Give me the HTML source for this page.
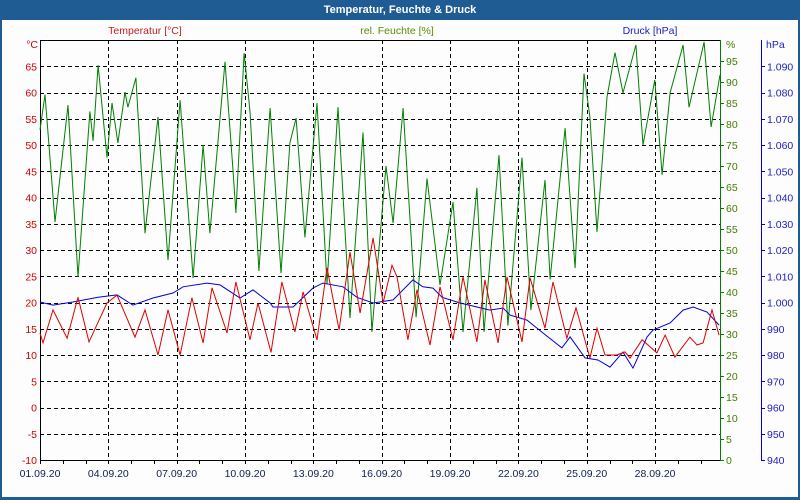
<!DOCTYPE html>
<html><head><meta charset="utf-8">
<style>
html,body{margin:0;padding:0;background:#fff;}
#wrap{position:relative;width:800px;height:500px;overflow:hidden;font-family:"Liberation Sans",sans-serif;}
</style></head>
<body>
<div id="wrap">
<svg id="chart" width="800" height="500" xmlns="http://www.w3.org/2000/svg" font-family="Liberation Sans, sans-serif">
  <rect x="0" y="0" width="800" height="500" fill="#1f5c94"/>
  <rect x="2" y="20" width="796" height="477" fill="#fdfdfd"/>
  <text x="400" y="13" text-anchor="middle" fill="#fff" font-size="11" font-weight="bold">Temperatur, Feuchte &amp; Druck</text>
  <text x="145" y="34" text-anchor="middle" fill="#c02020" font-size="10.5">Temperatur [°C]</text>
  <text x="397" y="34" text-anchor="middle" fill="#5a8a00" font-size="10.5">rel. Feuchte [%]</text>
  <text x="650" y="34" text-anchor="middle" fill="#2020c0" font-size="10.5">Druck [hPa]</text>
  <g id="grid"></g>
  <g id="axes"></g>
  <g id="series"></g>
</svg>
</div>
<script>
// ---- data ----
const humDays = [0,.22,.66,1.23,1.67,2.19,2.33,2.55,2.94,3.16,3.42,3.73,3.86,4.21,4.61,5.18,5.62,6.15,6.72,7.16,7.46,8.12,8.47,8.60,8.96,9.22,9.61,10.10,10.58,10.97,11.24,11.63,12.16,12.60,13.08,13.61,14.18,14.57,15.19,15.50,15.94,16.51,16.99,17.56,18.13,18.57,19.18,19.49,20.15,20.54,21.16,21.55,22.17,22.39,23.05,23.49,23.88,24.14,24.45,24.89,25.24,25.59,26.16,26.47,26.99,27.31,27.66,28.23,28.49,29.15,29.46,29.85];
const humValues = [78.6,87,56.7,84.5,43.6,83,76,94,72,85,75.5,87.6,84,91,54,81.7,47.6,85.7,43.3,75,54,94.8,69,58.8,96.9,83,45,83.8,44.5,75.5,81.4,53,85,42,84,33.8,78,30.5,70,56.4,83.8,34,67,41.7,61.4,30.5,64.8,30.5,72.6,32,72,35.7,66.7,43,79,45.7,92,81.7,54.3,86.4,97,87.4,98.8,75,90.5,67.9,87.4,98.8,84,99.5,79.3,91.7];
const tempDays = [0,.13,.57,1.19,1.67,2.15,2.94,3.38,4.17,4.61,5.18,5.62,6.15,6.67,7.16,7.55,8.21,8.60,9.22,9.57,10.14,10.62,11.19,11.55,12.16,12.60,13.13,13.61,14.05,14.62,15.06,15.45,15.67,16.15,16.55,17.12,17.56,18.13,18.57,19.18,19.53,20.11,20.50,21.16,21.51,22.17,22.52,23.13,23.53,24.14,24.45,24.80,25.33,25.68,25.90,26.43,27.08,27.44,27.87,28.53,28.84,29.11,29.50,29.81];
const tempValues = [14.2,12.3,18.6,13.2,21,12.5,19.9,21.4,13.4,18.6,10,18.6,10,20.9,12.3,22.8,14.2,23.9,12.9,19.9,10.5,23.9,14.4,22,12.9,26.6,14.8,29.6,18,32.3,19.9,27.1,24.9,12.9,22.4,11.9,23,12.9,24.9,12.5,24.3,12.3,24.9,12.5,24.7,15.1,23.9,13.2,19,9.4,15.1,10,10,10.6,9.4,12.9,10.4,13.8,9.6,13.4,11.9,12.3,18.6,13.8];
const presDays = [0,.57,1.45,2.55,3.38,4.08,4.96,5.84,6.28,7.33,7.90,8.78,9.35,10.10,10.23,11.11,11.98,12.42,13.30,13.91,14.62,15.50,16.37,16.81,17.25,17.65,18.44,19.75,20.33,20.63,21.38,22.08,22.91,23.27,23.93,24.49,25.02,25.59,26.03,26.65,26.91,27.66,28.23,28.67,29.28,29.81];
const presValues = [1000.2,999,1000.2,1002,1002.9,999,1001.7,1003.6,1006,1007.4,1006.7,1001.7,1004.8,999.8,998.3,998.3,1005.5,1007.4,1006,1002,999.8,1001,1008.6,1006,1005.5,1002,999.8,997.1,997.9,995.2,993.3,988.4,982.7,986.9,978.9,978.1,975.4,981.1,975,986.9,989.5,992.2,997.1,998.3,996.4,991.4];
const dateLabels = ["01.09.20","04.09.20","07.09.20","10.09.20","13.09.20","16.09.20","19.09.20","22.09.20","25.09.20","28.09.20"];
const tempTicks = [-10,-5,0,5,10,15,20,25,30,35,40,45,50,55,60,65];
const humTicks = [0,5,10,15,20,25,30,35,40,45,50,55,60,65,70,75,80,85,90,95];
const presTicks = [940,950,960,970,980,990,1000,1010,1020,1030,1040,1050,1060,1070,1080,1090];

// ---- layout ----
const L=40,R=720,T=40,B=460;
const NS='http://www.w3.org/2000/svg';
const xDay = d => L + d*(R-L)/29.85;
const yTemp = v => B - (v+10)*(B-T)/80;
const yHum = v => B - v*(B-T)/100;
const yPres = v => B - (v-940)*(B-T)/160;
function mk(tag, attrs, parent){const e=document.createElementNS(NS,tag);for(const k in attrs)e.setAttribute(k,attrs[k]);parent.appendChild(e);return e;}
const grid=document.getElementById('grid'), axes=document.getElementById('axes'), series=document.getElementById('series');

for(let v=-5; v<70; v+=5){
  const y=Math.round(yTemp(v))+0.5;
  const g=mk('line',{x1:L,x2:R,y1:y,y2:y,stroke:'#000','stroke-width':1,'stroke-dasharray':'4,3'},grid);
  
  
}
for(let d=3; d<30; d+=3){
  const x=Math.round(xDay(d))+0.5;
  const g=mk('line',{x1:x,x2:x,y1:T,y2:B,stroke:'#000','stroke-width':1,'stroke-dasharray':'4,3'},grid);
  
  
}
let e;
e=mk('line',{x1:L+0.5,x2:L+0.5,y1:T,y2:B+1,stroke:'#000'},axes);


e=mk('line',{x1:L,x2:R,y1:T+0.5,y2:T+0.5,stroke:'#000'},axes);


e=mk('line',{x1:L,x2:R+1,y1:B+0.5,y2:B+0.5,stroke:'#000'},axes);


e=mk('line',{x1:R+0.5,x2:R+0.5,y1:T,y2:B+1,stroke:'#008000'},axes);


e=mk('line',{x1:761.5,x2:761.5,y1:T,y2:B+1,stroke:'#0000e0'},axes);



for(let d=0; d<30; d++){
  const x=Math.round(xDay(d))+0.5;
  e=mk('line',{x1:x,x2:x,y1:B,y2:B+4,stroke:'#000'},axes);
  
  
}
dateLabels.forEach((s,i)=>{
  const t=mk('text',{x:xDay(i*3),y:477,'text-anchor':'middle','font-size':10.5,fill:'#102050'},axes);
  t.textContent=s;
  
  
});
tempTicks.forEach(v=>{
  const t=mk('text',{x:37,y:yTemp(v)+4,'text-anchor':'end','font-size':10.5,fill:'#d00000'},axes);
  t.textContent=v;
  
  
});
e=mk('text',{x:38,y:48,'text-anchor':'end','font-size':10.5,fill:'#d00000'},axes);
e.textContent='°C';


humTicks.forEach(v=>{
  const y=Math.round(yHum(v))+0.5;
  const l=mk('line',{x1:R,x2:R+4,y1:y,y2:y,stroke:'#008000'},axes);
  
  
  const t=mk('text',{x:726,y:yHum(v)+4,'font-size':10.5,fill:'#408000'},axes);
  t.textContent=v;
  
  
});
e=mk('text',{x:726,y:48,'font-size':10.5,fill:'#408000'},axes);
e.textContent='%';


presTicks.forEach(v=>{
  const y=Math.round(yPres(v))+0.5;
  const l=mk('line',{x1:761,x2:765,y1:y,y2:y,stroke:'#0000e0'},axes);
  
  
  const t=mk('text',{x:767,y:yPres(v)+4,'font-size':10.5,fill:'#2020c0'},axes);
  t.textContent=v>=1000?('1.'+String(v-1000).padStart(3,'0')):String(v);
  
  
});
e=mk('text',{x:766,y:48,'font-size':10.5,fill:'#2020c0'},axes);
e.textContent='hPa';



function pts(days,vals,yf){return days.map((d,i)=>xDay(d).toFixed(1)+','+yf(vals[i]).toFixed(1)).join(' ');}
e=mk('polyline',{points:pts(humDays,humValues,yHum),fill:'none',stroke:'#008000','stroke-width':1},series);


e=mk('polyline',{points:pts(presDays,presValues,yPres),fill:'none',stroke:'#0000e0','stroke-width':1},series);


e=mk('polyline',{points:pts(tempDays,tempValues,yTemp),fill:'none',stroke:'#e00000','stroke-width':1},series);


</script>
</body></html>
